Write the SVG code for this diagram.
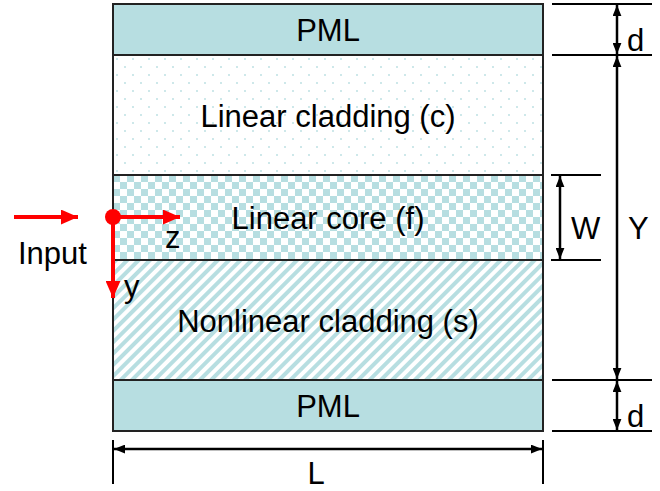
<svg xmlns="http://www.w3.org/2000/svg" width="660" height="491" viewBox="0 0 660 491">
<style>
text{font-family:"Liberation Sans",Arial,sans-serif;font-size:31px;fill:#000}
.c{text-anchor:middle}
.ln{stroke:#000;stroke-width:2;fill:none}
.dim{stroke:#000;stroke-width:2.5;fill:none}
.red{stroke:#FF0000;stroke-width:4;fill:none}
.layer{stroke:#222;stroke-width:2}
</style>
<defs>
<pattern id="dots" patternUnits="userSpaceOnUse" x="113" y="55" width="16" height="16">
<rect width="16" height="16" fill="#fff"/>
<circle cx="4" cy="4" r="0.9" fill="#B7DEE1"/>
<circle cx="12" cy="12" r="0.9" fill="#B7DEE1"/>
</pattern>
<pattern id="checker" patternUnits="userSpaceOnUse" x="113" y="175" width="14" height="14">
<rect width="14" height="14" fill="#fff"/>
<rect width="7" height="7" fill="#B7DEE1"/>
<rect x="7" y="7" width="7" height="7" fill="#B7DEE1"/>
</pattern>
<pattern id="stripes" patternUnits="userSpaceOnUse" width="8" height="8" patternTransform="rotate(45)">
<rect width="8" height="8" fill="#fff"/>
<rect width="4" height="8" fill="#B7DEE1"/>
</pattern>
<marker id="ah" viewBox="0 0 10 8" refX="10" refY="4" markerWidth="11" markerHeight="9" markerUnits="userSpaceOnUse" orient="auto-start-reverse">
<path d="M0,0 L10,4 L0,8 Z" fill="#000"/>
</marker>
<marker id="rh" viewBox="0 0 16 14" refX="16" refY="7" markerWidth="17" markerHeight="15" markerUnits="userSpaceOnUse" orient="auto">
<path d="M0,0 L16,7 L0,14 Z" fill="#FF0000"/>
</marker>
</defs>

<g id="pml-top">
<rect class="layer" x="113" y="4" width="430" height="51" fill="#B7DEE1"/>
<text class="c" x="328" y="41">PML</text>
</g>
<g id="linear-cladding">
<rect class="layer" x="113" y="55" width="430" height="120" fill="url(#dots)"/>
<text class="c" x="328" y="127">Linear cladding (c)</text>
</g>
<g id="linear-core">
<rect class="layer" x="113" y="175" width="430" height="85" fill="url(#checker)"/>
<text class="c" x="328" y="229">Linear core (f)</text>
</g>
<g id="nonlinear-cladding">
<rect class="layer" x="113" y="260" width="430" height="120" fill="url(#stripes)"/>
<text class="c" x="328" y="332">Nonlinear cladding (s)</text>
</g>
<g id="pml-bottom">
<rect class="layer" x="113" y="380" width="430" height="51" fill="#B7DEE1"/>
<text class="c" x="328" y="417">PML</text>
</g>

<g id="connectors">
<line class="ln" x1="552" y1="4" x2="652" y2="4"/>
<line class="ln" x1="552" y1="55" x2="652" y2="55"/>
<line class="ln" x1="552" y1="380" x2="652" y2="380"/>
<line class="ln" x1="552" y1="431" x2="652" y2="431"/>
<line class="ln" x1="551" y1="175" x2="601" y2="175"/>
<line class="ln" x1="551" y1="260" x2="601" y2="260"/>
<line class="dim" x1="617" y1="5" x2="617" y2="54" marker-start="url(#ah)" marker-end="url(#ah)"/>
<line class="dim" x1="617" y1="56" x2="617" y2="379" marker-start="url(#ah)" marker-end="url(#ah)"/>
<line class="dim" x1="617" y1="381" x2="617" y2="430" marker-start="url(#ah)" marker-end="url(#ah)"/>
<line class="dim" x1="560" y1="176" x2="560" y2="259" marker-start="url(#ah)" marker-end="url(#ah)"/>
<line class="ln" x1="113" y1="440" x2="113" y2="484"/>
<line class="ln" x1="543" y1="440" x2="543" y2="484"/>
<line class="dim" x1="114" y1="449" x2="542" y2="449" marker-start="url(#ah)" marker-end="url(#ah)"/>
<line class="red" x1="14" y1="217" x2="78" y2="217" marker-end="url(#rh)"/>
<line class="red" x1="113" y1="217" x2="180" y2="217" marker-end="url(#rh)"/>
<line class="red" x1="113" y1="217" x2="113" y2="298" marker-end="url(#rh)"/>
<circle cx="113" cy="217" r="8" fill="#FF0000"/>
</g>

<g id="labels">
<text x="627" y="51">d</text>
<text x="627" y="427">d</text>
<text x="628" y="239">Y</text>
<text x="571" y="239">W</text>
<text class="c" x="316" y="484">L</text>
<text x="18" y="264">Input</text>
<text x="165" y="248">z</text>
<text x="124" y="297">y</text>
</g>
</svg>
